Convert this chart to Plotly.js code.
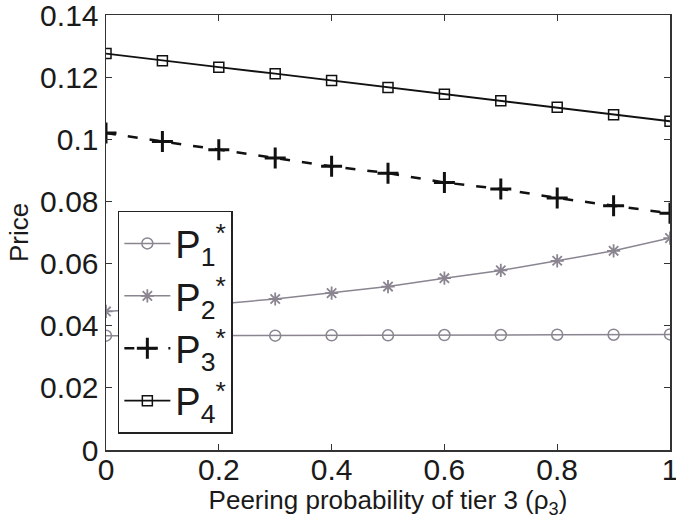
<!DOCTYPE html>
<html>
<head>
<meta charset="utf-8">
<script src="https://cdn.plot.ly/plotly-3.0.1.min.js"></script>
<style>html,body{margin:0;padding:0;background:#fff;}</style>
</head>
<body>
<div id="chart" style="width:676px;height:526px;"></div>
<script>
const rho = [0, 0.1, 0.2, 0.3, 0.4, 0.5, 0.6, 0.7, 0.8, 0.9, 1.0];
const P1 = [0.0368, 0.0368, 0.0368, 0.0368, 0.0369, 0.0369, 0.0370, 0.0370, 0.0371, 0.0371, 0.0372];
const P2 = [0.0446, 0.0457, 0.0470, 0.0486, 0.0505, 0.0526, 0.0553, 0.0578, 0.0609, 0.0641, 0.0682];
const P3 = [0.1020, 0.0993, 0.0966, 0.0940, 0.0913, 0.0891, 0.0861, 0.0840, 0.0811, 0.0786, 0.0762];
const P4 = [0.1276, 0.1253, 0.1232, 0.1211, 0.1189, 0.1167, 0.1145, 0.1124, 0.1103, 0.1079, 0.1058];
const names = ['P<sub>1</sub><sup>*</sup>', 'P<sub>2</sub><sup>*</sup>', 'P<sub>3</sub><sup>*</sup>', 'P<sub>4</sub><sup>*</sup>'];
const yTickVals = [0, 0.02, 0.04, 0.06, 0.08, 0.1, 0.12, 0.14];
const yTickText = ['0', '0.02', '0.04', '0.06', '0.08', '0.1', '0.12', '0.14'];
const xTickVals = [0, 0.2, 0.4, 0.6, 0.8, 1];
const xTickText = ['0', '0.2', '0.4', '0.6', '0.8', '1'];

const grey = '#8a8590';
const traces = [
  {x: rho, y: P1, name: names[0], mode: 'lines+markers',
   line: {color: grey, width: 1.5},
   marker: {symbol: 'circle-open', size: 11, color: grey, line: {width: 1.5, color: grey}}},
  {x: rho, y: P2, name: names[1], mode: 'lines+markers',
   line: {color: grey, width: 1.5},
   marker: {symbol: 'asterisk-open', size: 11, color: grey, line: {width: 1.8, color: grey}}},
  {x: rho, y: P3, name: names[2], mode: 'lines+markers',
   line: {color: '#111', width: 2.5, dash: '10px,12px'},
   marker: {symbol: 'cross-thin-open', size: 15, color: '#111', line: {width: 3, color: '#111'}}},
  {x: rho, y: P4, name: names[3], mode: 'lines+markers',
   line: {color: '#111', width: 1.8},
   marker: {symbol: 'square-open', size: 10, color: '#111', line: {width: 1.5, color: '#111'}}}
];

const layout = {
  width: 676, height: 526,
  paper_bgcolor: '#fff', plot_bgcolor: '#fff',
  margin: {l: 106, r: 6, t: 15, b: 76},
  font: {family: 'Liberation Sans, Arial, sans-serif', color: '#1a1a1a', size: 30},
  showlegend: true,
  legend: {
    x: 0.021, y: 0.55, xanchor: 'left', yanchor: 'top',
    bgcolor: '#fff', bordercolor: '#222', borderwidth: 1.5,
    font: {size: 38, color: '#1a1a1a'},
    itemwidth: 46, tracegroupgap: 0
  },
  xaxis: {
    range: [0, 1], tickvals: xTickVals, ticktext: xTickText,
    ticks: 'inside', ticklen: 6, tickcolor: '#333', mirror: 'ticks',
    ticklabeloverflow: 'allow', ticklabelstandoff: -8,
    showline: true, linecolor: '#333', linewidth: 1.5, showgrid: false, zeroline: false,
    tickfont: {size: 30},
    title: {text: 'Peering probability of tier 3 (ρ<sub>3</sub>)', font: {size: 26}, standoff: 2}
  },
  yaxis: {
    range: [0, 0.14], tickvals: yTickVals, ticktext: yTickText,
    ticks: 'inside', ticklen: 6, tickcolor: '#333', mirror: 'ticks',
    ticklabeloverflow: 'allow',
    showline: true, linecolor: '#333', linewidth: 1.5, showgrid: false, zeroline: false,
    tickfont: {size: 30},
    title: {text: 'Price', font: {size: 26}, standoff: 4}
  }
};
Plotly.newPlot('chart', traces, layout, {displayModeBar: false, staticPlot: true});
</script>
</body>
</html>
